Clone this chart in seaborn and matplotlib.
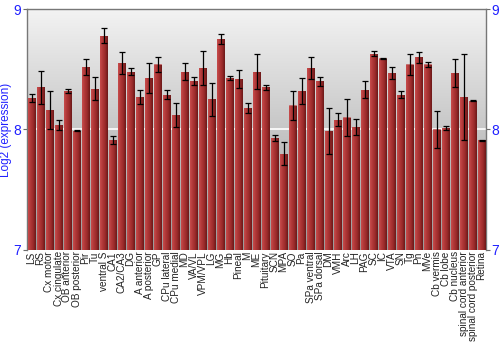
import numpy as np
import pandas as pd
import matplotlib
matplotlib.use("Agg")
import matplotlib.pyplot as plt
import seaborn as sns
from matplotlib.colors import LinearSegmentedColormap

regions = ["LS", "RS", "Cx motor", "Cx cingulate", "OB anterior", "OB posterior", "Pir", "Tu",
           "ventral S", "CA1", "CA2/CA3", "DG", "A anterior", "A posterior", "GP", "CPu lateral",
           "CPu medial", "MD", "VA/VL", "VPM/VPL", "LG", "MG", "Hb", "Pineal", "M", "ME",
           "Pituitary", "SCN", "MPA", "SO", "Pa", "SPa ventral", "SPa dorsal", "DM", "VMH", "Arc",
           "LH", "PAG", "SC", "IC", "VTA", "SN", "Tg", "Pn", "MVe", "Cb vermis", "Cb lobe",
           "Cb nucleus", "spinal cord anterior", "spinal cord posterior", "Retina"]
expression = [8.26, 8.35, 8.16, 8.04, 8.32, 7.99, 8.52, 8.34,
              8.78, 7.91, 8.55, 8.48, 8.27, 8.43, 8.54, 8.29,
              8.12, 8.48, 8.40, 8.51, 8.25, 8.75, 8.43, 8.42, 8.18, 8.48,
              8.35, 7.93, 7.80, 8.20, 8.32, 8.51, 8.40, 7.99, 8.08, 8.10,
              8.02, 8.33, 8.63, 8.59, 8.47, 8.29, 8.54, 8.60, 8.54, 8.00, 8.01,
              8.47, 8.27, 8.24, 7.91]
error = [0.035, 0.14, 0.16, 0.04, 0.02, 0.006, 0.065, 0.094,
         0.06, 0.033, 0.09, 0.03, 0.057, 0.124, 0.066, 0.04,
         0.10, 0.073, 0.033, 0.142, 0.138, 0.04, 0.015, 0.077, 0.043, 0.144,
         0.018, 0.022, 0.098, 0.12, 0.107, 0.094, 0.035, 0.19, 0.055, 0.157,
         0.066, 0.069, 0.02, 0.008, 0.05, 0.028, 0.085, 0.046, 0.017, 0.152, 0.015,
         0.116, 0.36, 0.005, 0.005]
y_ticks = [7, 8, 9]

df = pd.DataFrame({"region": regions, "expression": expression, "error": error})

sns.set_theme(style="white")
plt.rcParams["font.family"] = ["Liberation Sans", "DejaVu Sans"]

fig = plt.figure(figsize=(5, 3.5), dpi=100)
ax = fig.add_axes([0.054, 0.286, 0.918, 0.688])

sns.barplot(data=df, x="region", y="expression", color="#a83232", width=0.86,
            edgecolor="#c46a6a", linewidth=0.6, ax=ax, zorder=3)

ymin, ymax = y_ticks[0], y_ticks[-1]

# background gradient
bg = LinearSegmentedColormap.from_list("bg", ["#9a9a9a", "#f3f3f3"])
ax.imshow(np.linspace(0, 1, 256).reshape(-1, 1), cmap=bg, origin="lower",
          extent=[-0.5, len(regions) - 0.5, ymin, ymax], aspect="auto", zorder=0)
ax.axhline(8, color="white", lw=1.2, zorder=1)

# bar shading gradient (horizontal), limited to the visible part of each bar
barcm = LinearSegmentedColormap.from_list("bar", ["#c84c4c", "#b03838", "#9a2a2a", "#6a1818"])
grad = np.linspace(0, 1, 64).reshape(1, -1)
for p in list(ax.patches):
    x0, w = p.get_x(), p.get_width()
    top = p.get_y() + p.get_height()
    ax.imshow(grad, cmap=barcm, extent=[x0 + 0.03, x0 + w - 0.03, ymin, top - 0.004],
              aspect="auto", zorder=3.5)

ax.errorbar(np.arange(len(regions)), df["expression"], yerr=df["error"], fmt="none",
            ecolor="black", elinewidth=0.9, capsize=2, capthick=0.9, zorder=5)

ax.set_xlim(-0.5, len(regions) - 0.5)
ax.set_ylim(ymin, ymax)
ax.set_yticks(y_ticks)
ax.set_yticklabels([str(t) for t in y_ticks])
ax.tick_params(axis="y", colors="#6b6b6b", labelcolor="#2020ff", labelsize=10,
               length=3, width=0.8, left=True, right=True, labelleft=True, labelright=True, pad=1)
ax.tick_params(axis="x", labelsize=7.2, length=0, pad=1, labelcolor="#222222")
plt.setp(ax.get_xticklabels(), rotation=90)
ax.set_xlabel("")
ax.set_ylabel("Log2 (expression)", color="#2020ff", fontsize=8.5, labelpad=1)

for s in ["top", "right", "left"]:
    ax.spines[s].set_color("#777777")
    ax.spines[s].set_linewidth(1)
ax.spines["bottom"].set_visible(False)

fig.savefig("out.png", dpi=100)
